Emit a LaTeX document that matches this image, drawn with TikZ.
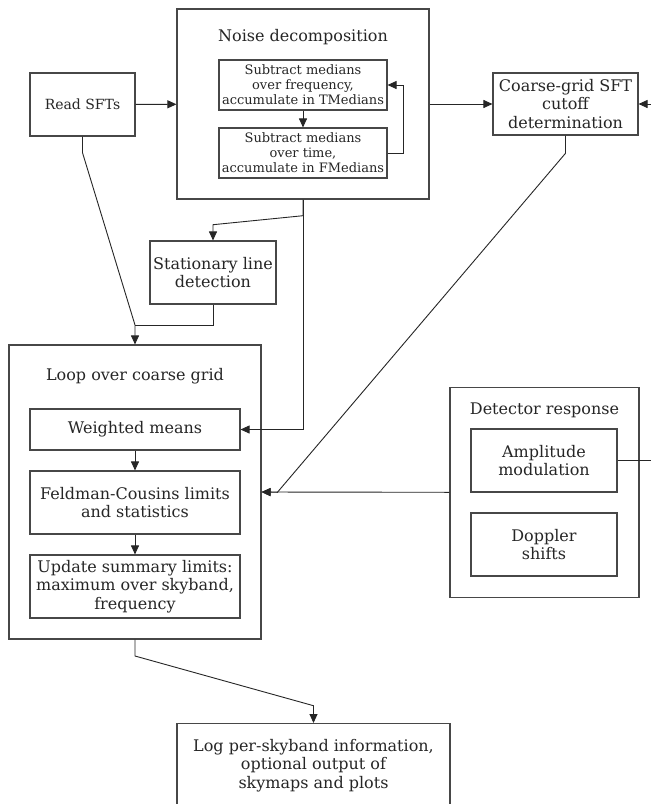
\documentclass[tikz,border=0pt]{standalone}
\usepackage{fontspec}
\setmainfont{DejaVu Serif}
\usetikzlibrary{arrows.meta}
\tikzset{
  box/.style={draw=black!72, line width=1.1pt, inner sep=0pt, align=center, text=black!85},
  bigf/.style={font=\fontsize{16}{18.6}\selectfont},
  midf/.style={font=\fontsize{14}{16.5}\selectfont},
  smallf/.style={font=\fontsize{13}{15}\selectfont},
  titlef/.style={inner sep=0pt, align=center, text=black!85, font=\fontsize{16}{18.6}\selectfont},
  conn/.style={draw=black!85, line width=0.9pt},
  arr/.style={conn, -{Triangle[length=9pt,width=8pt]}},
}
\begin{document}
\begin{tikzpicture}[x=1pt,y=-1pt]
\useasboundingbox (0,0) rectangle (651,804);
\clip (0,0) rectangle (651,804);
\fill[white] (0,0) rectangle (651,804);

% nodes
\node[box, midf, minimum width=105pt, minimum height=63pt] (read) at (82.5,104.5) {Read SFTs};
\node[box, minimum width=252pt, minimum height=190pt] (noise) at (303,104) {};
\node[titlef] (noisetitle) at (303,37) {Noise decomposition};
\node[box, smallf, minimum width=168pt, minimum height=50pt] (med1) at (303,85) {Subtract medians\\over frequency,\\accumulate in TMedians};
\node[box, smallf, minimum width=168pt, minimum height=50pt] (med2) at (303,153) {Subtract medians\\over time,\\accumulate in FMedians};
\node[box, bigf, minimum width=145pt, minimum height=62pt] (coarse) at (565.5,104) {Coarse-grid SFT\\cutoff\\determination};
\node[box, bigf, minimum width=126pt, minimum height=63pt] (stat) at (213,272.5) {Stationary line\\detection};
\node[box, minimum width=252pt, minimum height=294pt] (loop) at (135,492) {};
\node[titlef] (looptitle) at (135,376) {Loop over coarse grid};
\node[box, bigf, minimum width=210pt, minimum height=41pt] (wm) at (135,429.5) {Weighted means};
\node[box, bigf, minimum width=210pt, minimum height=63pt] (fc) at (135,502.5) {Feldman-Cousins limits\\and statistics};
\node[box, bigf, minimum width=210pt, minimum height=63pt] (upd) at (135,586.5) {Update summary limits:\\maximum over skyband,\\frequency};
\node[box, minimum width=189pt, minimum height=210pt] (det) at (544.5,492.3) {};
\node[titlef] (dettitle) at (544.5,410) {Detector response};
\node[box, bigf, minimum width=146pt, minimum height=63pt] (amp) at (544,460.5) {Amplitude\\modulation};
\node[box, bigf, minimum width=146pt, minimum height=63pt] (dop) at (544,544.5) {Doppler\\shifts};
\node[box, anchor=north, minimum width=273pt, minimum height=120pt] (log) at (313.5,723) {};
\node[titlef] (logtext) at (313.5,765.5) {Log per-skyband information,\\optional output of\\skymaps and plots};

% free ends beyond the right edge
\coordinate (rin) at (665,104);
\coordinate (rout) at (665,460.5);

% connectors
\draw[arr] (read) -- (noise);
\draw[arr] (noise) -- (coarse);
\draw[arr] (rin) -- (coarse);
\draw[arr] (med1) -- (med2);
\draw[arr] (med2.east) -- (403,153) -- (403,85) -- (med1.east);
\draw[arr] (noise.south) -- (303,215.7) -- (213,224.7) -- (stat.north);
\draw[arr] (noise.south) -- (303,429.5) -- (wm.east);
\draw[arr] (read.south) -- (82.5,152.7) -- (135,325) -- (loop.north);
\draw[conn] (stat.south) -- (213,325) -- (135,325);
\draw[arr] (coarse.south) -- (565.5,153.3) -- (277.4,492.3) -- (loop.east);
\draw[arr] (det.west) -- (loop.east);
\draw[arr] (wm) -- (fc);
\draw[arr] (fc) -- (upd);
\draw[arr] (loop.south) -- (135,656) -- (313.5,705.7) -- (log.north);
\draw[conn] (amp.east) -- (rout);
\end{tikzpicture}
\end{document}
